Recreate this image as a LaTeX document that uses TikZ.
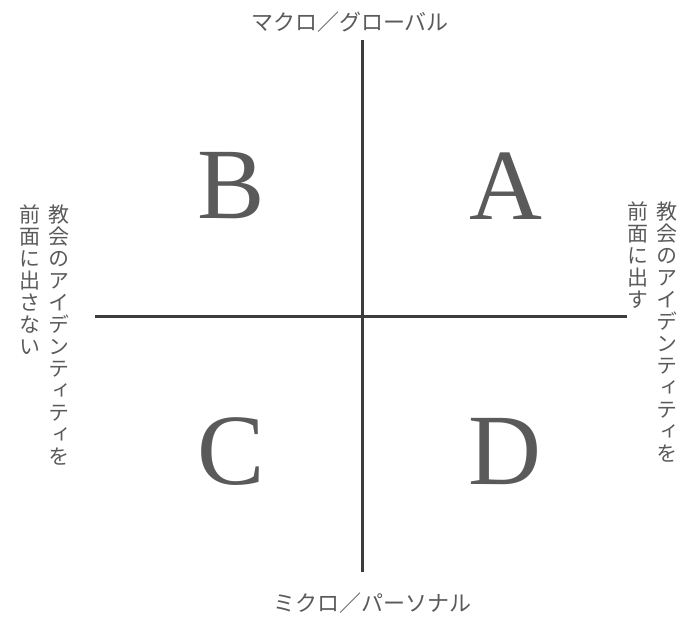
\documentclass[tikz,border=0pt]{standalone}
\usepackage{fontspec}
\setmainfont{Liberation Serif}
\newfontfamily\jpfont{Noto Sans CJK JP}
\newfontfamily\jpvfont[RawFeature=+vert]{Noto Sans CJK JP}
\definecolor{inkgray}{HTML}{5A5A5A}
\definecolor{axisgray}{HTML}{3C3C3C}

\begin{document}
\begin{tikzpicture}[x=1pt, y=-1pt,
  axis/.style={line width=3pt, axisgray},
  quad/.style={inkgray, font=\fontsize{101}{101}\selectfont},
  pole/.style={inkgray, inner sep=0pt, font=\jpfont\fontsize{22}{22}\selectfont},
  tate/.style={inkgray, inner sep=0pt, anchor=north, align=center,
    font=\jpvfont\fontsize{21}{22}\selectfont}]
  \useasboundingbox (0,0) rectangle (687,618);
  % axes
  \coordinate (top) at (362,40);
  \coordinate (bot) at (362,572);
  \coordinate (lft) at (95,316);
  \coordinate (rgt) at (627,316);
  \draw[axis] (top) -- (bot);
  \draw[axis] (lft) -- (rgt);
  % poles
  \node[pole] (macro) at (350,22) {マクロ／グローバル};
  \node[pole] (micro) at (372,603) {ミクロ／パーソナル};
  \node[tate] (lmain) at (59,205) {教\\会\\の\\ア\\イ\\デ\\ン\\テ\\ィ\\テ\\ィ\\を};
  \node[tate] (lsub) at (30,205) {前\\面\\に\\出\\さ\\な\\い};
  \node[tate] (rmain) at (667,202) {教\\会\\の\\ア\\イ\\デ\\ン\\テ\\ィ\\テ\\ィ\\を};
  \node[tate] (rsub) at (638,202) {前\\面\\に\\出\\す};
  % quadrants
  \node[quad] (qa) at (506,186) {A};
  \node[quad] (qb) at (231,186) {B};
  \node[quad] (qc) at (231,452) {C};
  \node[quad] (qd) at (505,452) {D};
\end{tikzpicture}
\end{document}
